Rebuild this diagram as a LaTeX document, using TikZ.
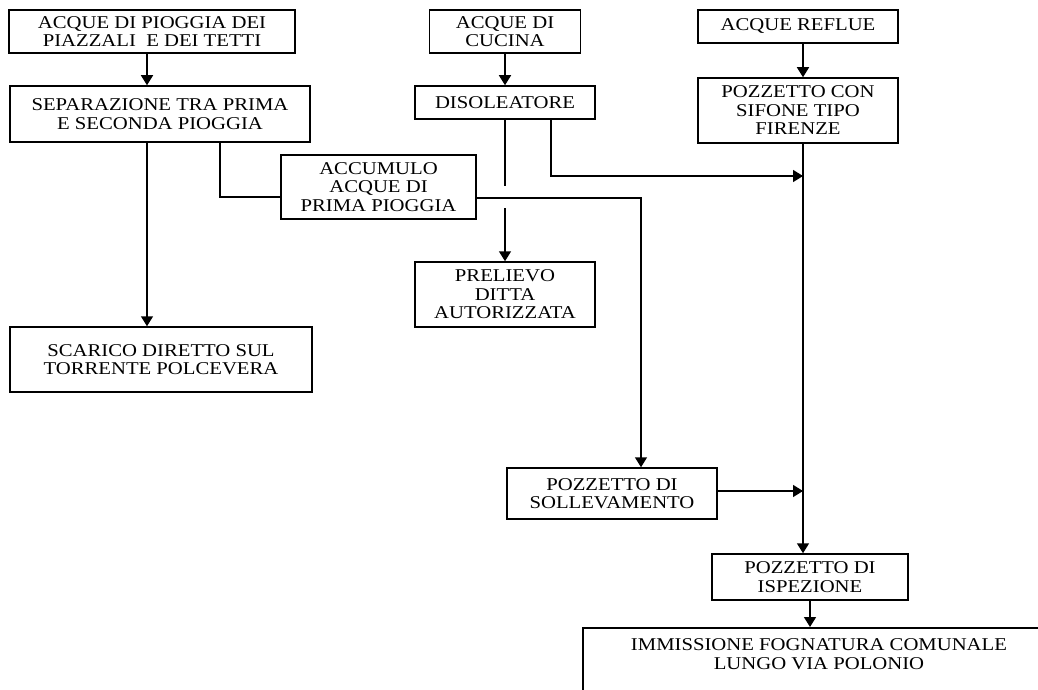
\documentclass[tikz,border=0pt]{standalone}
\usepackage{fontspec}
\setmainfont{Liberation Serif}[FakeStretch=1.15]
\usetikzlibrary{arrows.meta}

\begin{document}
\begin{tikzpicture}[x=1pt, y=-1pt, >={Triangle[length=10pt,width=12pt]}, line width=1.5pt,
                    box/.style={draw, rectangle, align=center, inner sep=2pt,
                                font=\fontsize{18}{18.5}\selectfont}]

      \useasboundingbox (0,0) rectangle (1038,690);
      \clip (0,0) rectangle (1038,690);

      % Nodes
      \node[box, minimum width=286pt, minimum height=43pt] (piog) at (152,31.5) {ACQUE DI PIOGGIA DEI\\PIAZZALI\ \ E DEI TETTI};
      \node[box, minimum width=300pt, minimum height=56pt] (sep) at (160,114) {SEPARAZIONE TRA PRIMA\\E SECONDA PIOGGIA};
      \node[box, minimum width=195pt, minimum height=64pt] (acc) at (378.5,187) {ACCUMULO\\ACQUE DI\\PRIMA PIOGGIA};
      \node[box, minimum width=302pt, minimum height=65pt] (scar) at (161,359.5) {SCARICO DIRETTO SUL\\TORRENTE POLCEVERA};
      \node[box, minimum width=151pt, minimum height=43pt] (cuc) at (505,31.5) {ACQUE DI\\CUCINA};
      \node[box, minimum width=180pt, minimum height=33pt] (dis) at (505,102.5) {DISOLEATORE};
      \node[box, minimum width=180pt, minimum height=65pt] (prel) at (505,294.5) {PRELIEVO\\DITTA\\AUTORIZZATA};
      \node[box, minimum width=200pt, minimum height=33pt] (refl) at (798,26.5) {ACQUE REFLUE};
      \node[box, minimum width=200pt, minimum height=65pt] (fir) at (798,110.5) {POZZETTO CON\\SIFONE TIPO\\FIRENZE};
      \node[box, minimum width=210pt, minimum height=51pt] (soll) at (612,493.5) {POZZETTO DI\\SOLLEVAMENTO};
      \node[box, minimum width=196pt, minimum height=46pt] (isp) at (810,577) {POZZETTO DI\\ISPEZIONE};
      \node[box, minimum width=520pt, minimum height=120pt, anchor=north west] (imm) at (582,627) {};
      \node[box, draw=none] (immtxt) at (819,654) {IMMISSIONE FOGNATURA COMUNALE\\LUNGO VIA POLONIO};

      % Points on the lines
      \coordinate (jmpA) at (505,186);
      \coordinate (jmpB) at (505,208);
      \coordinate (joinA) at (803,176);
      \coordinate (joinB) at (803,491);

      % Directed Edges
      \draw[->] ([xshift=-5pt]piog.south) -- ([xshift=-5pt]piog.south |- sep.north);
      \draw[->] ([xshift=-13pt]sep.south) -- ([xshift=-13pt]sep.south |- scar.north);
      \draw ([xshift=60pt]sep.south) |- ([yshift=-10pt]acc.west);
      \draw[->] ([yshift=-11pt]acc.east) -| ([xshift=29pt]soll.north);
      \draw[->] (cuc.south) -- (dis.north);
      \draw (dis.south) -- (jmpA);
      \draw[->] (jmpB) -- (prel.north);
      \draw[->] ([xshift=46pt]dis.south) |- (joinA);
      \draw[->] ([xshift=5pt]refl.south) -- ([xshift=5pt]refl.south |- fir.north);
      \draw[->] ([xshift=5pt]fir.south) -- ([xshift=5pt]fir.south |- isp.north);
      \draw[->] (soll.east |- joinB) -- (joinB);
      \draw[->] (isp.south) -- (isp.south |- imm.north);

    \end{tikzpicture}
\end{document}
